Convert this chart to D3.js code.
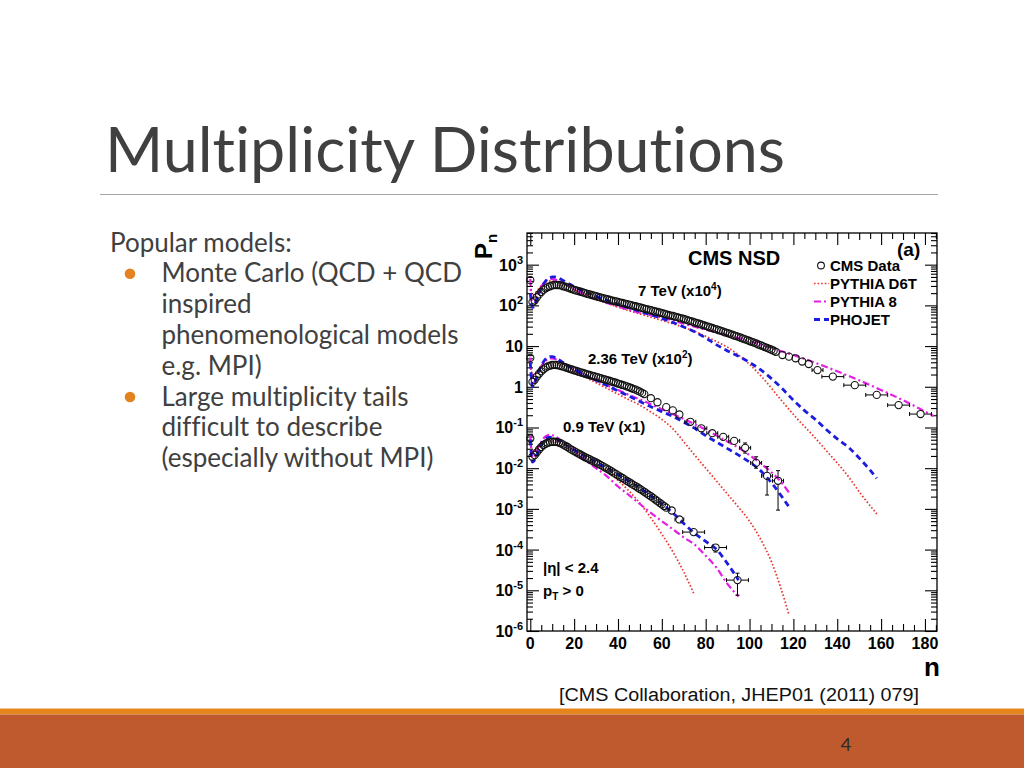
<!DOCTYPE html>
<html><head><meta charset="utf-8">
<script src="https://cdn.jsdelivr.net/npm/d3@7"></script>
<style>body{margin:0;background:#fff}svg{display:block}text{font-variant-ligatures:none;font-feature-settings:"liga" 0}</style>
</head><body>
<svg id="c" width="1024" height="768"></svg>
<script>
// ---------- DATA (stored as log10 of plotted Pn) ----------
// CMS data, 7 TeV (x10^4): one point per n = 0..112, then wider bins
const cms7Dense = [2.62,2.08,2.12,2.20,2.27,2.33,2.38,2.42,2.45,2.47,
 2.49,2.50,2.50,2.50,2.49,2.47,2.46,2.44,2.42,2.40,
 2.38,2.365,2.35,2.335,2.32,2.30,2.285,2.27,2.255,2.24,
 2.225,2.21,2.195,2.18,2.165,2.15,2.14,2.125,2.11,2.10,
 2.085,2.07,2.06,2.045,2.03,2.02,2.005,1.99,1.98,1.965,
 1.95,1.935,1.92,1.91,1.895,1.88,1.865,1.85,1.84,1.825,
 1.81,1.795,1.78,1.765,1.75,1.74,1.725,1.71,1.695,1.68,
 1.665,1.65,1.63,1.615,1.60,1.58,1.565,1.55,1.53,1.515,
 1.495,1.48,1.46,1.445,1.425,1.41,1.39,1.375,1.355,1.335,
 1.32,1.30,1.28,1.26,1.245,1.225,1.205,1.185,1.165,1.145,
 1.125,1.105,1.085,1.065,1.04,1.02,1.00,0.975,0.955,0.93,
 0.91,0.885,0.86];
const cms7SparseN = [115,118,121,124,127,131,138,148,158,168,178];
const cms7SparseV = [0.78,0.74,0.70,0.62,0.56,0.41,0.25,0.04,-0.20,-0.45,-0.67];
const cms7SparseXe = [1.5,1.5,1.5,1.5,1.5,2.5,5,5,5,5,5];
const cms7SparseUp = [0.02,0.02,0.02,0.02,0.03,0.03,0.04,0.04,0.05,0.06,0.07];
const cms7SparseDn = [0.02,0.02,0.02,0.02,0.03,0.03,0.04,0.04,0.05,0.06,0.07];

// CMS data, 2.36 TeV (x10^2)
const cms236Dense = [0.71,0.12,0.17,0.25,0.32,0.38,0.43,0.47,0.50,0.52,
 0.535,0.54,0.535,0.525,0.51,0.495,0.48,0.46,0.44,0.425,
 0.405,0.39,0.37,0.355,0.34,0.32,0.305,0.29,0.275,0.26,
 0.245,0.23,0.215,0.195,0.18,0.165,0.15,0.13,0.115,0.10,
 0.08,0.065,0.045,0.03,0.01,-0.01,-0.03,-0.05,-0.07,-0.095,
 -0.12,-0.15,-0.18];
const cms236SparseN = [55,58,62,65,68,73,78,83,88,93,98,103,108,113];
const cms236SparseV = [-0.28,-0.38,-0.50,-0.58,-0.68,-0.86,-1.02,-1.14,-1.23,-1.33,-1.50,-1.87,-2.19,-2.31];
const cms236SparseXe = [1.5,1.5,1.5,1.5,1.5,2.5,2.5,2.5,2.5,2.5,2.5,2.5,2.5,2.5];
const cms236SparseUp = [0.03,0.03,0.04,0.04,0.05,0.05,0.06,0.07,0.08,0.09,0.12,0.15,0.23,0.25];
const cms236SparseDn = [0.03,0.03,0.04,0.04,0.05,0.05,0.06,0.07,0.08,0.09,0.13,0.13,0.47,0.72];

// CMS data, 0.9 TeV (x1)
const cms09Dense = [-1.27,-1.72,-1.68,-1.61,-1.54,-1.48,-1.43,-1.40,-1.375,-1.36,
 -1.35,-1.35,-1.355,-1.37,-1.39,-1.42,-1.45,-1.48,-1.52,-1.55,
 -1.58,-1.61,-1.64,-1.67,-1.70,-1.73,-1.755,-1.78,-1.81,-1.835,
 -1.86,-1.89,-1.92,-1.95,-1.98,-2.01,-2.04,-2.075,-2.11,-2.14,
 -2.175,-2.21,-2.24,-2.275,-2.31,-2.34,-2.375,-2.41,-2.44,-2.475,
 -2.51,-2.545,-2.58,-2.62,-2.655,-2.69,-2.73,-2.77,-2.81,-2.85,
 -2.89,-2.93,-2.97];
const cms09SparseN = [64.5,68,74.5,84.5,94.5];
const cms09SparseV = [-3.04,-3.26,-3.57,-3.95,-4.75];
const cms09SparseXe = [1.5,2,5,5,5];
const cms09SparseUp = [0.05,0.06,0.08,0.10,0.17];
const cms09SparseDn = [0.05,0.06,0.09,0.11,0.37];

// Monte Carlo curves: n and log10(Pn)
const d6t7N = [0,1,2,3,4,5,6,7,8,9,10,12,14,16,18,20,25,30,35,40,45,50,55,60,65,70,75,80,85,90,95,100,106,114,122,129,136,144,151,158.5];
const d6t7V = [2.4,2.25,2.28,2.35,2.42,2.48,2.53,2.57,2.59,2.6,2.6,2.58,2.54,2.49,2.44,2.39,2.27,2.15,2.05,1.96,1.87,1.79,1.71,1.63,1.55,1.46,1.36,1.24,1.11,0.97,0.78,0.55,0.22,-0.3,-0.8,-1.2,-1.63,-2.13,-2.65,-3.15];
const phojet7N = [0,1,2,3,4,5,6,7,8,9,10,11,12,14,16,18,20,25,30,35,40,45,50,55,60,65,70,75,80,85,90,95,100,105,110,115,120,125,130,135,140,145,150,155,158];
const phojet7V = [2.3,1.95,2.0,2.15,2.3,2.42,2.52,2.6,2.65,2.68,2.70,2.70,2.69,2.64,2.58,2.52,2.46,2.33,2.22,2.12,2.03,1.94,1.85,1.77,1.68,1.58,1.47,1.35,1.2,1.03,0.88,0.75,0.6,0.42,0.2,-0.05,-0.33,-0.58,-0.8,-1.05,-1.28,-1.48,-1.75,-2.05,-2.25];
const py87N = [0,1,2,3,4,5,6,7,8,9,10,12,14,16,18,20,25,30,35,40,45,50,55,60,70,80,90,100,110,120,130,140,150,160,170,178,184];
const py87V = [2.65,2.0,2.05,2.2,2.35,2.46,2.54,2.6,2.63,2.65,2.65,2.62,2.57,2.51,2.45,2.39,2.27,2.16,2.06,1.97,1.89,1.82,1.76,1.70,1.55,1.40,1.27,1.12,0.95,0.78,0.59,0.38,0.16,-0.08,-0.33,-0.55,-0.72];

const d6t236N = [0,1,2,4,6,8,10,12,14,16,18,20,25,30,35,40,45,50,55,60,65,70,75,80,85,90,95,100,105,110,114,118];
const d6t236V = [0.55,0.3,0.3,0.42,0.52,0.58,0.6,0.58,0.54,0.49,0.44,0.38,0.24,0.1,-0.04,-0.18,-0.32,-0.45,-0.62,-0.8,-1.03,-1.35,-1.68,-2.0,-2.32,-2.64,-2.96,-3.3,-3.74,-4.3,-4.9,-5.6];
const phojet236N = [0,1,2,3,4,5,6,7,8,9,10,12,14,16,18,20,25,30,35,40,45,50,55,60,65,70,75,80,85,90,95,100,105,110,115,118];
const phojet236V = [0.6,0.0,0.1,0.25,0.4,0.52,0.61,0.68,0.72,0.74,0.74,0.7,0.63,0.56,0.49,0.43,0.29,0.16,0.03,-0.1,-0.23,-0.36,-0.49,-0.61,-0.73,-0.87,-1.02,-1.2,-1.36,-1.52,-1.68,-1.85,-2.06,-2.36,-2.72,-2.95];
const py8236N = [0,1,2,3,4,5,6,7,8,9,10,12,14,16,18,20,25,30,35,40,45,50,55,60,65,70,75,80,85,90,95,100,105,110,115,118];
const py8236V = [0.72,0.05,0.12,0.26,0.4,0.5,0.58,0.64,0.68,0.7,0.7,0.67,0.61,0.54,0.47,0.41,0.27,0.15,0.03,-0.08,-0.2,-0.31,-0.43,-0.55,-0.67,-0.79,-0.92,-1.05,-1.2,-1.35,-1.5,-1.68,-1.88,-2.1,-2.38,-2.6];

const d6t09N = [0,1,2,4,6,8,10,12,14,16,18,20,25,30,35,40,45,50,55,60,65,70,74.5];
const d6t09V = [-1.3,-1.6,-1.55,-1.45,-1.38,-1.34,-1.33,-1.35,-1.39,-1.44,-1.5,-1.56,-1.72,-1.89,-2.08,-2.3,-2.56,-2.86,-3.22,-3.62,-4.05,-4.55,-5.07];
const phojet09N = [0,1,2,3,4,5,6,7,8,9,10,12,14,16,18,20,25,30,35,40,45,50,55,60,65,70,75,80,85,90,95];
const phojet09V = [-1.3,-1.85,-1.8,-1.68,-1.55,-1.43,-1.34,-1.28,-1.25,-1.24,-1.25,-1.29,-1.35,-1.42,-1.49,-1.55,-1.71,-1.86,-2.0,-2.16,-2.32,-2.49,-2.68,-2.88,-3.1,-3.36,-3.6,-3.8,-4.0,-4.35,-4.75];
const py809N = [0,1,2,3,4,5,6,7,8,9,10,12,14,16,18,20,25,30,35,40,45,50,55,60,65,70,75,80,85,90,95];
const py809V = [-1.2,-1.75,-1.7,-1.58,-1.45,-1.35,-1.27,-1.22,-1.19,-1.18,-1.19,-1.24,-1.32,-1.41,-1.50,-1.59,-1.80,-2.0,-2.2,-2.45,-2.66,-2.88,-3.1,-3.3,-3.5,-3.7,-3.88,-4.15,-4.45,-4.85,-5.15];

// Axis ticks / labels
const xTickLabels = [0,20,40,60,80,100,120,140,160,180];
const yTickExps = [3,2,1,0,-1,-2,-3,-4,-5,-6];
const legendLabels = ["CMS Data","PYTHIA D6T","PYTHIA 8","PHOJET"];
const energyLabels = [["7 TeV (x10","4",")"],["2.36 TeV (x10","2",")"],["0.9 TeV (x1","",")"]];

// Slide text
const titleText = "Multiplicity Distributions";
const bodyLines = [
  {t:"Popular models:", indent:false, bullet:false},
  {t:"Monte Carlo (QCD + QCD", indent:true, bullet:true},
  {t:"inspired", indent:true, bullet:false},
  {t:"phenomenological models", indent:true, bullet:false},
  {t:"e.g. MPI)", indent:true, bullet:false},
  {t:"Large multiplicity tails", indent:true, bullet:true},
  {t:"difficult to describe", indent:true, bullet:false},
  {t:"(especially without MPI)", indent:true, bullet:false}
];
const citation = "[CMS Collaboration, JHEP01 (2011) 079]";
const pageNumber = "4";

// ---------- DRAWING ----------
const svg = d3.select("#c");
const AF = "'Liberation Sans', Arial, sans-serif";
const BF = "Lato, 'Open Sans', sans-serif";

// slide decorations
svg.append("rect").attr("x",0).attr("y",0).attr("width",1024).attr("height",768).attr("fill","#fff");
svg.append("text").attr("x",105).attr("y",172).attr("font-family",BF).attr("font-size",62)
  .attr("fill","#404040").attr("textLength",680).attr("lengthAdjust","spacingAndGlyphs").text(titleText);
svg.append("line").attr("x1",100).attr("x2",938).attr("y1",194.5).attr("y2",194.5)
  .attr("stroke","#a6a6a6").attr("stroke-width",1.2);

bodyLines.forEach((l,i)=>{
  const yb = 251.5 + i*30.8;
  svg.append("text").attr("x", l.indent?161.5:110).attr("y",yb).attr("font-family",BF)
    .attr("font-size",26).attr("fill","#404040").text(l.t);
  if(l.bullet) svg.append("circle").attr("cx",130).attr("cy",yb-8.5).attr("r",5.3).attr("fill","#e3831f");
});

svg.append("text").attr("x",559).attr("y",701).attr("font-family",AF).attr("font-size",18)
  .attr("fill","#111").attr("textLength",360).attr("lengthAdjust","spacingAndGlyphs").text(citation);

svg.append("rect").attr("x",0).attr("y",708.5).attr("width",1024).attr("height",6).attr("fill","#e5861d");
svg.append("rect").attr("x",0).attr("y",714.5).attr("width",1024).attr("height",54).attr("fill","#be5a2d");
svg.append("text").attr("x",846).attr("y",751).attr("text-anchor","middle").attr("font-family",BF)
  .attr("font-size",18).attr("fill","#2a2a2a").text(pageNumber);

// ---------- chart ----------
const X0=527, X1=937, Y0=233, Y1=631;
const x = d3.scaleLinear().domain([-1.5,185.5]).range([X0,X1]);
const y = d3.scaleLog().domain([1e-6,6000]).range([Y1,Y0]);
const yv = v => y(Math.pow(10,v));

const axes = svg.append("g").attr("color","#000");
function ticks(axisGen, vals, size, tr){
  axes.append("g").attr("transform",tr)
    .call(axisGen.tickValues(vals).tickSize(size).tickFormat(()=>""))
    .call(s=>{s.select(".domain").remove(); s.selectAll("line").attr("stroke-width",1.1);});
}
const xMajor = xTickLabels;
const xMid = d3.range(10,186,20);
const xMinor = d3.range(5,186,10);
ticks(d3.axisBottom(x), xMajor, -12, `translate(0,${Y1})`);
ticks(d3.axisBottom(x), xMid, -7, `translate(0,${Y1})`);
ticks(d3.axisBottom(x), xMinor, -6, `translate(0,${Y1})`);
ticks(d3.axisTop(x), xMajor, -12, `translate(0,${Y0})`);
ticks(d3.axisTop(x), xMid, -7, `translate(0,${Y0})`);
ticks(d3.axisTop(x), xMinor, -6, `translate(0,${Y0})`);
const yMajor = yTickExps.map(e=>Math.pow(10,e));
const yMinor = [];
for(let e=-6;e<=3;e++) for(let m=2;m<=9;m++){ const v=m*Math.pow(10,e); if(v<=6000) yMinor.push(v); }
ticks(d3.axisLeft(y), yMajor, -12, `translate(${X0},0)`);
ticks(d3.axisLeft(y), yMinor, -6, `translate(${X0},0)`);
ticks(d3.axisRight(y), yMajor, -12, `translate(${X1},0)`);
ticks(d3.axisRight(y), yMinor, -6, `translate(${X1},0)`);

svg.append("rect").attr("x",X0).attr("y",Y0).attr("width",X1-X0).attr("height",Y1-Y0)
  .attr("fill","none").attr("stroke","#000").attr("stroke-width",1.3);

// tick labels
const tl = svg.append("g").attr("font-family",AF).attr("font-weight","bold").attr("fill","#000");
xTickLabels.forEach(v=>{
  tl.append("text").attr("x",x(v)).attr("y",649).attr("text-anchor","middle").attr("font-size",16).text(v);
});
yTickExps.forEach(e=>{
  const t = tl.append("text").attr("x",523).attr("y",yv(e)+6).attr("text-anchor","end").attr("font-size",16);
  if(e===0) t.text("1");
  else if(e===1) t.text("10");
  else { t.append("tspan").text("10"); t.append("tspan").attr("font-size",11).attr("dy",-7).text(String(e)); }
});
// axis titles
const yt = svg.append("text").attr("transform","translate(492,259) rotate(-90)").attr("font-family",AF)
  .attr("font-weight","bold").attr("font-size",24);
yt.append("tspan").text("P"); yt.append("tspan").attr("font-size",15).attr("dy",5).text("n");
svg.append("text").attr("x",940).attr("y",676).attr("text-anchor","end").attr("font-family",AF)
  .attr("font-weight","bold").attr("font-size",26).text("n");

// MC curves
const line = d3.line().x(d=>x(d[0])).y(d=>yv(d[1])).curve(d3.curveMonotoneX);
const styles = {
  d6t: {stroke:"#e8362f", w:1.7, dash:"1.6,2"},
  py8: {stroke:"#e41ee4", w:2.2, dash:"7,3,2,3"},
  pho: {stroke:"#1c1ce0", w:2.8, dash:"6,4"}
};
const curves = [
  [d6t7N,d6t7V,"d6t"],[d6t236N,d6t236V,"d6t"],[d6t09N,d6t09V,"d6t"],
  [py87N,py87V,"py8"],[py8236N,py8236V,"py8"],[py809N,py809V,"py8"],
  [phojet7N,phojet7V,"pho"],[phojet236N,phojet236V,"pho"],[phojet09N,phojet09V,"pho"]
];
const cg = svg.append("g").attr("fill","none");
curves.forEach(([n,v,s])=>{
  const st = styles[s];
  cg.append("path").datum(n.map((d,i)=>[d,v[i]])).attr("d",line)
    .attr("stroke",st.stroke).attr("stroke-width",st.w).attr("stroke-dasharray",st.dash);
});

// data points
const R = 3.6;
const dg = svg.append("g");
function drawData(dense, sn, sv, sxe, sup, sdn){
  const pts = dense.map((v,i)=>({n:i, v, xe:0, up:0, dn:0}))
    .concat(sn.map((n,i)=>({n, v:sv[i], xe:sxe[i], up:sup[i], dn:sdn[i]})));
  pts.forEach(p=>{
    const cx = x(p.n), cy = yv(p.v);
    if(p.xe>0){
      const xl = x(p.n-p.xe), xr = x(p.n+p.xe);
      if(cx-R-xl>0.5){
        dg.append("line").attr("x1",xl).attr("x2",cx-R).attr("y1",cy).attr("y2",cy).attr("stroke","#000").attr("stroke-width",1);
        dg.append("line").attr("x1",cx+R).attr("x2",xr).attr("y1",cy).attr("y2",cy).attr("stroke","#000").attr("stroke-width",1);
        dg.append("line").attr("x1",xl).attr("x2",xl).attr("y1",cy-2).attr("y2",cy+2).attr("stroke","#000").attr("stroke-width",1);
        dg.append("line").attr("x1",xr).attr("x2",xr).attr("y1",cy-2).attr("y2",cy+2).attr("stroke","#000").attr("stroke-width",1);
      }
      const yu = yv(p.v+p.up), yd = yv(p.v-p.dn);
      if(cy-yu > R+0.5){
        dg.append("line").attr("x1",cx).attr("x2",cx).attr("y1",yu).attr("y2",cy-R).attr("stroke","#000").attr("stroke-width",1);
        dg.append("line").attr("x1",cx-2).attr("x2",cx+2).attr("y1",yu).attr("y2",yu).attr("stroke","#000").attr("stroke-width",1);
      }
      if(yd-cy > R+0.5){
        dg.append("line").attr("x1",cx).attr("x2",cx).attr("y1",cy+R).attr("y2",yd).attr("stroke","#000").attr("stroke-width",1);
        dg.append("line").attr("x1",cx-2).attr("x2",cx+2).attr("y1",yd).attr("y2",yd).attr("stroke","#000").attr("stroke-width",1);
      }
    }
    dg.append("circle").attr("cx",cx).attr("cy",cy).attr("r",R).attr("fill","none")
      .attr("stroke","#111").attr("stroke-width",1.1);
  });
}
drawData(cms7Dense, cms7SparseN, cms7SparseV, cms7SparseXe, cms7SparseUp, cms7SparseDn);
drawData(cms236Dense, cms236SparseN, cms236SparseV, cms236SparseXe, cms236SparseUp, cms236SparseDn);
drawData(cms09Dense, cms09SparseN, cms09SparseV, cms09SparseXe, cms09SparseUp, cms09SparseDn);

// labels inside the plot
const tg = svg.append("g").attr("font-family",AF).attr("font-weight","bold").attr("fill","#000");
tg.append("text").attr("x",688).attr("y",265).attr("font-size",20).text("CMS NSD");
tg.append("text").attr("x",897).attr("y",256).attr("font-size",19).text("(a)");
const ePos = [[638,296],[588,364],[563,432]];
energyLabels.forEach((l,i)=>{
  const t = tg.append("text").attr("x",ePos[i][0]).attr("y",ePos[i][1]).attr("font-size",15);
  t.append("tspan").text(l[0]);
  if(l[1]){ t.append("tspan").attr("font-size",10).attr("dy",-6).text(l[1]); t.append("tspan").attr("dy",6).text(l[2]); }
  else t.append("tspan").text(l[2]);
});
tg.append("text").attr("x",543).attr("y",573).attr("font-size",15).text("|η| < 2.4");
const pt = tg.append("text").attr("x",543).attr("y",596).attr("font-size",15);
pt.append("tspan").text("p"); pt.append("tspan").attr("font-size",10).attr("dy",4).text("T");
pt.append("tspan").attr("dy",-4).text(" > 0");

// legend
const lgY = [271,289,307,325];
legendLabels.forEach((lab,i)=>{
  tg.append("text").attr("x",830).attr("y",lgY[i]).attr("font-size",15).text(lab);
});
svg.append("circle").attr("cx",821).attr("cy",lgY[0]-5.5).attr("r",3.4).attr("fill","none").attr("stroke","#111").attr("stroke-width",1.1);
["d6t","py8","pho"].forEach((s,i)=>{
  const st = styles[s];
  svg.append("line").attr("x1",814).attr("x2",829).attr("y1",lgY[i+1]-5.5).attr("y2",lgY[i+1]-5.5)
    .attr("stroke",st.stroke).attr("stroke-width",st.w).attr("stroke-dasharray",st.dash);
});
</script>
</body></html>
